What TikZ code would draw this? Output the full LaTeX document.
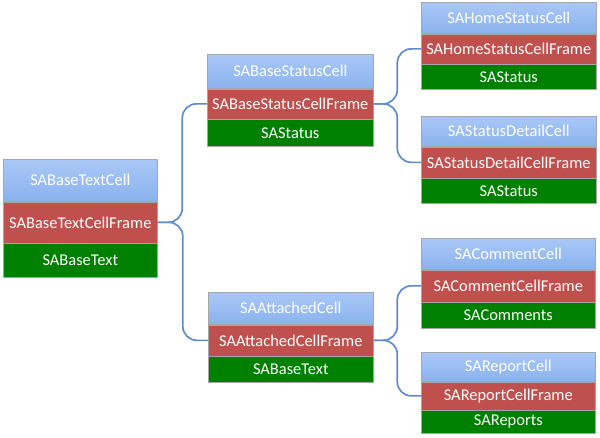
\documentclass[tikz,border=0pt]{standalone}
\usepackage{fontspec}
\setmainfont{Carlito}
\usepackage{tikz}
\usetikzlibrary{positioning, calc}

\definecolor{celltop}{RGB}{170,200,247}
\definecolor{cellbot}{RGB}{138,178,238}
\definecolor{framered}{RGB}{192,80,77}
\definecolor{modelgreen}{RGB}{0,128,0}
\definecolor{linkblue}{RGB}{95,140,205}

\begin{document}
\begin{tikzpicture}[
  x=0.025cm, y=-0.025cm,
  row/.style={rectangle, inner sep=0pt, text=white, font=\fontsize{11.7}{14}\selectfont, draw=black!35, line width=0.4pt},
  cell/.style={row, top color=celltop, bottom color=cellbot},
  frame/.style={row, fill=framered},
  model/.style={row, fill=modelgreen},
  link/.style={draw=linkblue, line width=1.2pt, rounded corners=0.35cm},
  node distance=0pt
]
\useasboundingbox (0,0) rectangle (600,438);

% root
\node[cell, anchor=north west, minimum width=3.85cm, minimum height=1.05cm] (base) at (3,159) {SABaseTextCell};
\node[frame, below=of base, minimum width=3.85cm, minimum height=1.025cm] (baseframe) {SABaseTextCellFrame};
\node[model, below=of baseframe, minimum width=3.85cm, minimum height=0.85cm] (basetext) {SABaseText};

% middle column
\node[cell, anchor=north west, minimum width=4.15cm, minimum height=0.85cm] (status) at (207,54) {SABaseStatusCell};
\node[frame, below=of status, minimum width=4.15cm, minimum height=0.75cm] (statusframe) {SABaseStatusCellFrame};
\node[model, below=of statusframe, minimum width=4.15cm, minimum height=0.675cm] (statusmodel) {SAStatus};

\node[cell, anchor=north west, minimum width=4.125cm, minimum height=0.8cm] (attached) at (208,292) {SAAttachedCell};
\node[frame, below=of attached, minimum width=4.125cm, minimum height=0.775cm] (attachedframe) {SAAttachedCellFrame};
\node[model, below=of attachedframe, minimum width=4.125cm, minimum height=0.65cm] (attachedtext) {SABaseText};

% right column
\node[cell, anchor=north west, minimum width=4.375cm, minimum height=0.775cm] (home) at (421,2) {SAHomeStatusCell};
\node[frame, below=of home, minimum width=4.375cm, minimum height=0.75cm] (homeframe) {SAHomeStatusCellFrame};
\node[model, below=of homeframe, minimum width=4.375cm, minimum height=0.625cm] (homemodel) {SAStatus};

\node[cell, anchor=north west, minimum width=4.375cm, minimum height=0.75cm] (detail) at (421,116) {SAStatusDetailCell};
\node[frame, below=of detail, minimum width=4.375cm, minimum height=0.775cm] (detailframe) {SAStatusDetailCellFrame};
\node[model, below=of detailframe, minimum width=4.375cm, minimum height=0.625cm] (detailmodel) {SAStatus};

\node[cell, anchor=north west, minimum width=4.35cm, minimum height=0.775cm] (comment) at (421,238) {SACommentCell};
\node[frame, below=of comment, minimum width=4.35cm, minimum height=0.8cm] (commentframe) {SACommentCellFrame};
\node[model, below=of commentframe, minimum width=4.35cm, minimum height=0.65cm] (commentmodel) {SAComments};

\node[cell, anchor=north west, minimum width=4.35cm, minimum height=0.725cm] (report) at (421,352) {SAReportCell};
\node[frame, below=of report, minimum width=4.35cm, minimum height=0.7cm] (reportframe) {SAReportCellFrame};
\node[model, below=of reportframe, minimum width=4.35cm, minimum height=0.575cm] (reportmodel) {SAReports};

% braces
\draw[link] (baseframe.east) -| ($(baseframe.east)!.5!(statusframe.west)$) |- (statusframe.west);
\draw[link] (baseframe.east) -| ($(baseframe.east)!.5!(attachedframe.west)$) |- (attachedframe.west);
\draw[link] (statusframe.east) -| ($(statusframe.east)!.5!(homeframe.west)$) |- (homeframe.west);
\draw[link] (statusframe.east) -| ($(statusframe.east)!.5!(detailframe.west)$) |- (detailframe.west);
\draw[link] (attachedframe.east) -| ($(attachedframe.east)!.5!(commentframe.west)$) |- (commentframe.west);
\draw[link] (attachedframe.east) -| ($(attachedframe.east)!.5!(reportframe.west)$) |- (reportframe.west);
\end{tikzpicture}
\end{document}
